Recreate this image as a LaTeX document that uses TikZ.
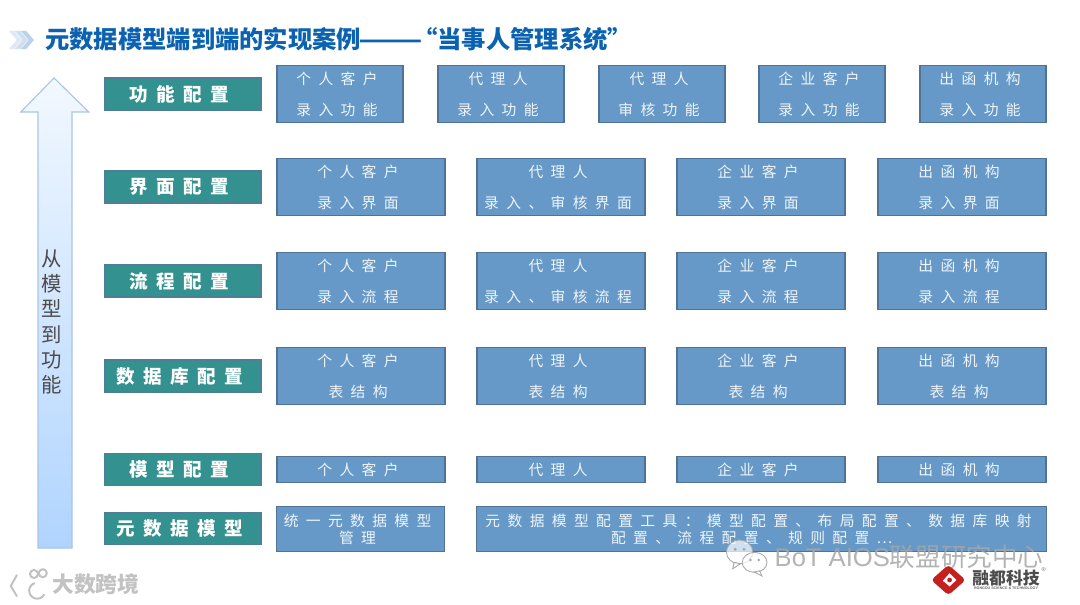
\documentclass[tikz,border=0pt]{standalone}
\usepackage{graphicx}
\usepackage{fontspec}
\setmainfont{Liberation Sans}
\newfontfamily\cjk{Noto Sans CJK SC}
\newfontfamily\cjkwide[LetterSpace=50]{Noto Sans CJK SC}
\newfontfamily\cjklabel[LetterSpace=45]{Noto Sans CJK SC}
\usetikzlibrary{positioning}
\definecolor{cielo}{HTML}{6699C8}
\definecolor{cielob}{HTML}{4F7296}
\definecolor{verde}{HTML}{33918F}
\definecolor{verdeb}{HTML}{4E7F96}
\definecolor{titulo}{HTML}{0B62B0}
\definecolor{flecha}{HTML}{A9C6E3}
\definecolor{flechab}{HTML}{B0D4FF}
\definecolor{flechat}{HTML}{F2F8FF}
\definecolor{marca}{HTML}{A6A6A6}
\definecolor{rojo}{HTML}{C4201F}
\tikzset{
 cell/.style={draw=cielob,fill=cielo,line width=1.1pt,text=white!90!cielo,align=center,inner sep=0pt,font=\fontsize{10.5}{12}\cjkwide},
 narrowcell/.style={cell,minimum width=3.15cm,minimum height=1.42cm},
 widecell/.style={cell,minimum width=4.2cm,minimum height=1.42cm},
 lowcell/.style={cell,minimum width=4.2cm,minimum height=0.65cm},
 tag/.style={draw=verdeb,fill=verde,line width=0.8pt,text=white,minimum width=3.9cm,minimum height=0.8cm,inner sep=0pt,font=\fontsize{13.2}{15}\cjklabel\bfseries},
 wmark/.style={text=marca,inner sep=0pt,opacity=0.85},
}
\newcommand{\lsp}{\hspace*{4.2pt}}
\newcommand{\twolines}[2]{#1\lsp\\[10pt]#2\lsp}
\begin{document}
\begin{tikzpicture}
\useasboundingbox (0,0) rectangle (27,15.1);
\fill[white] (0,0) rectangle (27,15.1);

% title
\foreach \x/\o in {0.22/14,0.37/20,0.52/28} \fill[titulo!\o] (\x,14.33) -- (\x+0.13,14.33) -- (\x+0.33,14.1) -- (\x+0.13,13.87) -- (\x,13.87) -- (\x+0.2,14.1) -- cycle;
\node[anchor=west,inner sep=0pt,text=titulo,font=\fontsize{17.3}{20}\cjk\bfseries] (title) at (1.12,14.12) {元数据模型端到端的实现案例\hspace{-2pt}\scalebox{1.55}[1]{——}\hspace{-7pt}“当事人管理系统”};

% arrow
\shade[top color=flechat,bottom color=flechab,draw=flecha,line width=0.8pt] (1.35,13.15) -- (2.22,12.3) -- (1.8,12.3) -- (1.8,1.4) -- (0.95,1.4) -- (0.95,12.3) -- (0.52,12.3) -- cycle;
\node[inner sep=0pt,align=center,text=black!70,font=\fontsize{14.5}{17.9}\cjk] (updir) at (1.3,7.05) {从\\模\\型\\到\\功\\能};

% left tags
\foreach \n/\y/\t in {a/12.75/功能配置,b/10.425/界面配置,c/8.075/流程配置,d/5.7/数据库配置,e/3.3625/模型配置,f/1.8875/元数据模型}
 \node[tag] (tag\n) at (4.575,\y) {\t\hspace*{5pt}};

% top row
\foreach \n/\x/\s/\t in {1/8.5/个人客户/录入功能,2/12.525/代理人/录入功能,3/16.55/代理人/审核功能,4/20.55/企业客户/录入功能,5/24.575/出函机构/录入功能}
 \node[narrowcell] (a\n) at (\x,12.75) {\twolines{\s}{\t}};

% middle rows
\foreach \n/\x/\s/\t in {1/9.025/个人客户/录入界面,2/14.025/代理人/录入、审核界面,3/19.025/企业客户/录入界面,4/24.05/出函机构/录入界面}
 \node[widecell] (b\n) at (\x,10.425) {\twolines{\s}{\t}};
\foreach \n/\x/\s/\t in {1/9.025/个人客户/录入流程,2/14.025/代理人/录入、审核流程,3/19.025/企业客户/录入流程,4/24.05/出函机构/录入流程}
 \node[widecell] (c\n) at (\x,8.075) {\twolines{\s}{\t}};
\foreach \n/\x/\s in {1/9.025/个人客户,2/14.025/代理人,3/19.025/企业客户,4/24.05/出函机构}
 \node[widecell] (d\n) at (\x,5.7) {\twolines{\s}{表结构}};
\foreach \n/\x/\s in {1/9.025/个人客户,2/14.025/代理人,3/19.025/企业客户,4/24.05/出函机构}
 \node[lowcell] (e\n) at (\x,3.3625) {\s\lsp};

% bottom row
\node[cell,minimum width=4.2cm,minimum height=1.13cm] (f1) at (9.013,1.875) {统一元数据模型\lsp\\[0pt]管理\lsp};
\node[cell,minimum width=14.25cm,minimum height=1.13cm] (f2) at (19.038,1.875) {元数据模型配置工具：模型配置、布局配置、数据库映射\lsp\\[0pt]配置、流程配置、规则配置…\hspace*{14pt}};

% watermarks
\begin{scope}[shift={(18.49,1.3)},draw=marca,fill=white,fill opacity=0.7,line width=0.6pt]
\filldraw (0,0) ellipse (0.33 and 0.3);
\filldraw (-0.14,-0.26) -- (-0.17,-0.42) -- (0.02,-0.29) -- cycle;
\filldraw (0.375,-0.26) ellipse (0.31 and 0.25);
\filldraw (0.5,-0.47) -- (0.56,-0.6) -- (0.36,-0.5) -- cycle;
\fill[marca,fill opacity=1] (-0.11,0.07) circle (0.04) (0.11,0.07) circle (0.04) (0.27,-0.2) circle (0.035) (0.48,-0.2) circle (0.035);
\end{scope}
\node[wmark,anchor=west,font=\fontsize{18.2}{20}\selectfont] (wmright) at (19.36,1.17) {BoT AIOS{\cjk 联盟研究中心}};
\begin{scope}[draw=marca!70,line width=1.4pt,line cap=round]
\draw (0.42,0.72) -- (0.27,0.45) -- (0.42,0.2);
\draw (0.86,0.52) arc[start angle=110,end angle=330,radius=0.2];
\draw (0.85,0.75) circle (0.1) (1.07,0.77) circle (0.1);
\end{scope}
\node[wmark,anchor=west,font=\fontsize{15.5}{18}\cjk\bfseries,text=marca!80] (wmleft) at (1.3,0.5) {大数跨境};
\begin{scope}[shift={(23.71,0.6)}]
\fill[rojo,rounded corners=2.5pt] (-0.43,0) -- (0,0.38) -- (0.43,0) -- (0,-0.38) -- cycle;
\fill[white] (-0.14,-0.02) -- (0.03,0.17) -- (0.2,0) -- (0.03,-0.16) -- cycle;
\fill[rojo] (0.03,0) circle (0.06);
\end{scope}
\node[anchor=west,inner sep=0pt,text=black!70,font=\fontsize{12}{13}\cjk\bfseries] (logoname) at (24.3,0.65) {融都科技};
\node[inner sep=0pt,text=black!60,font=\fontsize{2.6}{3}\bfseries,below=0.02cm of logoname] (logosub) {RONGDU SCIENCE \& TECHNOLOGY};
\node[inner sep=0pt,text=black!55,font=\fontsize{4}{5}\selectfont,right=0.03cm of logoname.north east] (logoreg) {®};

\end{tikzpicture}
\end{document}
